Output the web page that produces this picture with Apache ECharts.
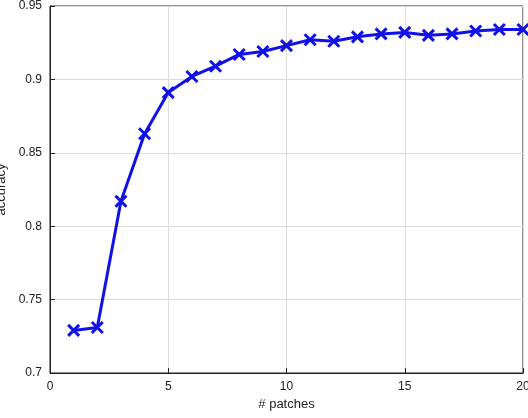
<!DOCTYPE html>
<html>
<head>
<meta charset="utf-8">
<script src="https://cdn.jsdelivr.net/npm/echarts@6/dist/echarts.min.js"></script>
<style>html,body{margin:0;padding:0;background:#fff}#chart{width:528px;height:418px}</style>
</head>
<body>
<div id="chart"></div>
<script>
// data
var patches = [1, 2, 3, 4, 5, 6, 7, 8, 9, 10, 11, 12, 13, 14, 15, 16, 17, 18, 19, 20];
var accuracy = [0.729, 0.731, 0.817, 0.863, 0.891, 0.902, 0.909, 0.917, 0.919, 0.923,
  0.927, 0.926, 0.929, 0.931, 0.932, 0.930, 0.931, 0.933, 0.934, 0.934];

var chart = echarts.init(document.getElementById('chart'));
var font = 'Helvetica, Arial, "Liberation Sans", sans-serif';
var axisLine = { show: true, onZero: false, lineStyle: { color: '#222', width: 1 } };
var axisTick = { show: true, inside: true, length: 5, lineStyle: { color: '#222' } };
var splitLine = { show: true, lineStyle: { color: '#dcdcdc', width: 1 } };
var labelStyle = { color: '#222', fontSize: 12, fontFamily: font };
var nameStyle = { color: '#222', fontSize: 13, fontFamily: font };

chart.setOption({
  animation: false,
  grid: { left: 50, right: 5, top: 6, bottom: 45, outerBoundsMode: 'none', containLabel: false,
    show: true, borderColor: '#222', borderWidth: 1 },
  xAxis: {
    type: 'value', min: 0, max: 20, interval: 5,
    name: '# patches', nameLocation: 'middle', nameGap: 24,
    axisLine: axisLine, axisTick: axisTick, splitLine: splitLine,
    axisLabel: labelStyle, nameTextStyle: nameStyle
  },
  yAxis: {
    type: 'value', min: 0.7, max: 0.95, interval: 0.05,
    name: 'accuracy', nameLocation: 'middle', nameGap: 38,
    axisLine: axisLine, axisTick: axisTick, splitLine: splitLine,
    axisLabel: labelStyle, nameTextStyle: nameStyle
  },
  series: [{
    type: 'line',
    data: patches.map(function (p, i) { return [p, accuracy[i]]; }),
    symbol: 'path://M-1,-1L1,1M1,-1L-1,1',
    symbolSize: 11,
    itemStyle: { color: '#1010e8', borderColor: '#1010e8', borderWidth: 3 },
    lineStyle: { color: '#1010e8', width: 3 }
  }]
});
</script>
</body>
</html>
